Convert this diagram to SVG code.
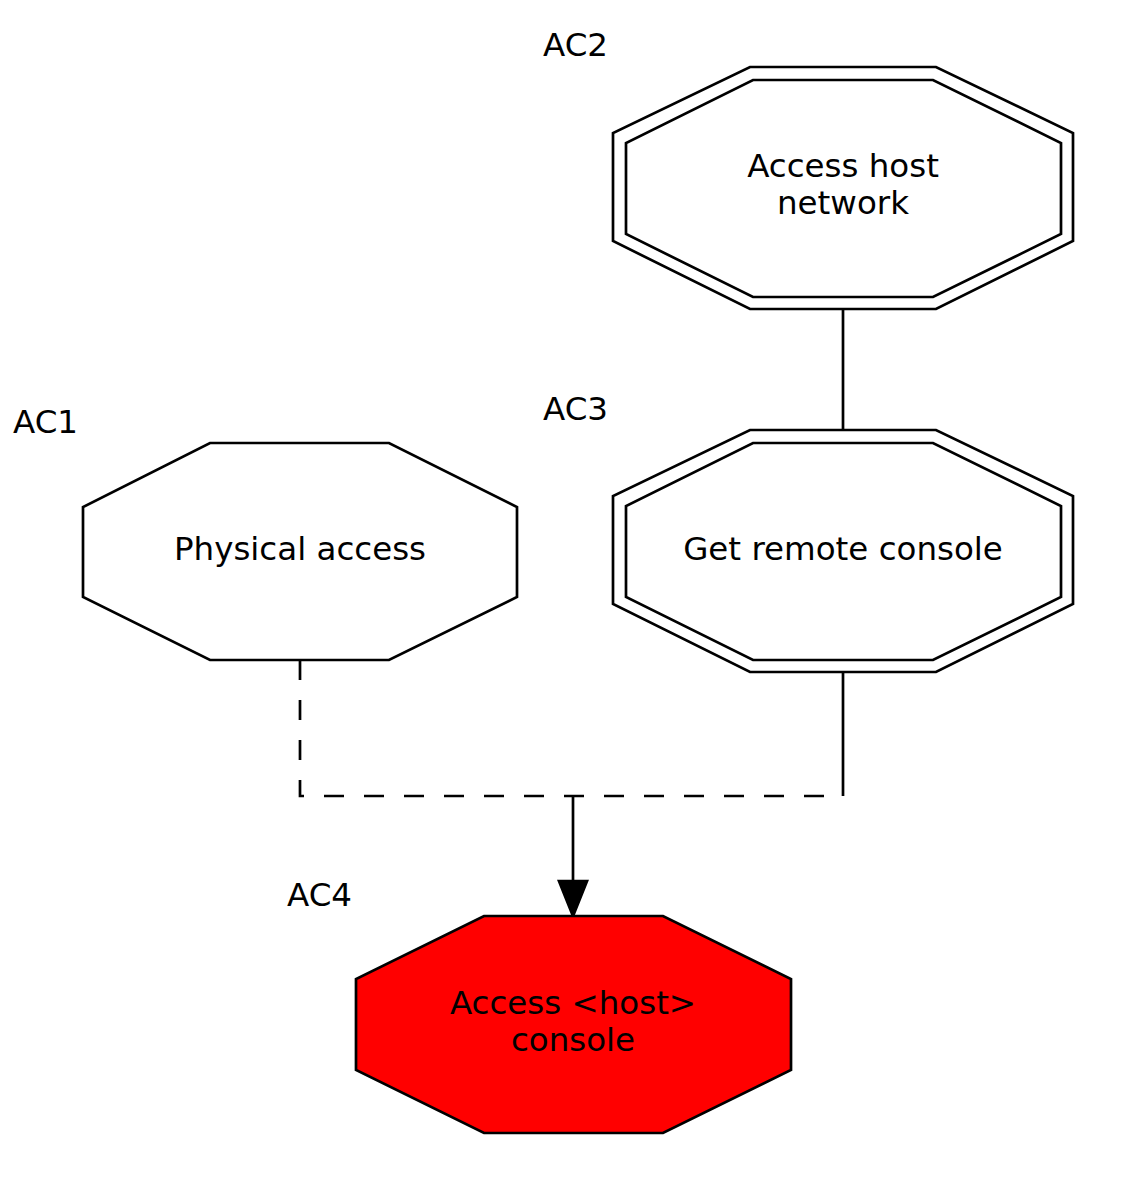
<svg xmlns="http://www.w3.org/2000/svg" width="1140" height="1200" viewBox="0 0 1140 1200">
<style>
.n{fill:#fff;stroke:#000;stroke-width:2.7}
.red{fill:#ff0000;stroke:#000;stroke-width:2.7}
.t{font-family:"DejaVu Sans",Verdana,sans-serif;font-size:32.5px;fill:#000}
.m{text-anchor:middle}
.e{fill:none;stroke:#000;stroke-width:2.7}
.d{stroke-dasharray:20,20}
</style>
<defs>
<marker id="ah" markerWidth="28" markerHeight="37" refX="27" refY="14" orient="auto" markerUnits="userSpaceOnUse" viewBox="0 0 37 28">
<path d="M0,0 L37,14 L0,28 Z" fill="#000" stroke="#000" stroke-width="2"/>
</marker>
</defs>
<rect width="1140" height="1200" fill="#fff"/>
<g id="edges">
<line class="e" x1="843" y1="309" x2="843" y2="430"/>
<polyline class="e d" points="300,660 300,796 843,796"/>
<line class="e" x1="843" y1="672" x2="843" y2="796"/>
<line class="e" x1="573" y1="796" x2="573" y2="881"/>
<path d="M559,881 L587,881 L573,916 Z" fill="#000" stroke="#000" stroke-width="2.7" stroke-linejoin="miter"/>
</g>
<g id="AC1">
<polygon class="n" points="210,443 389,443 517,507 517,597 389,660 210,660 83,597 83,507"/>
<text class="t m" x="300" y="560">Physical access</text>
<text class="t" x="13" y="433">AC1</text>
</g>
<g id="AC2">
<polygon class="n" points="750,67 936,67 1073,133 1073,241 936,309 750,309 613,241 613,133"/>
<polygon class="n" points="753,80 933,80 1061,143 1061,234 933,297 753,297 626,234 626,143"/>
<text class="t m" x="843" y="177">Access host</text>
<text class="t m" x="843" y="214">network</text>
<text class="t" x="543" y="56">AC2</text>
</g>
<g id="AC3">
<polygon class="n" points="750,430 936,430 1073,496 1073,604 936,672 750,672 613,604 613,496"/>
<polygon class="n" points="753,443 933,443 1061,506 1061,597 933,660 753,660 626,597 626,506"/>
<text class="t m" x="843" y="560">Get remote console</text>
<text class="t" x="543" y="420">AC3</text>
</g>
<g id="AC4">
<polygon class="red" points="484,916 663,916 791,979 791,1070 663,1133 484,1133 356,1070 356,979"/>
<text class="t m" x="573" y="1014">Access &lt;host&gt;</text>
<text class="t m" x="573" y="1051">console</text>
<text class="t" x="287" y="906">AC4</text>
</g>
</svg>
